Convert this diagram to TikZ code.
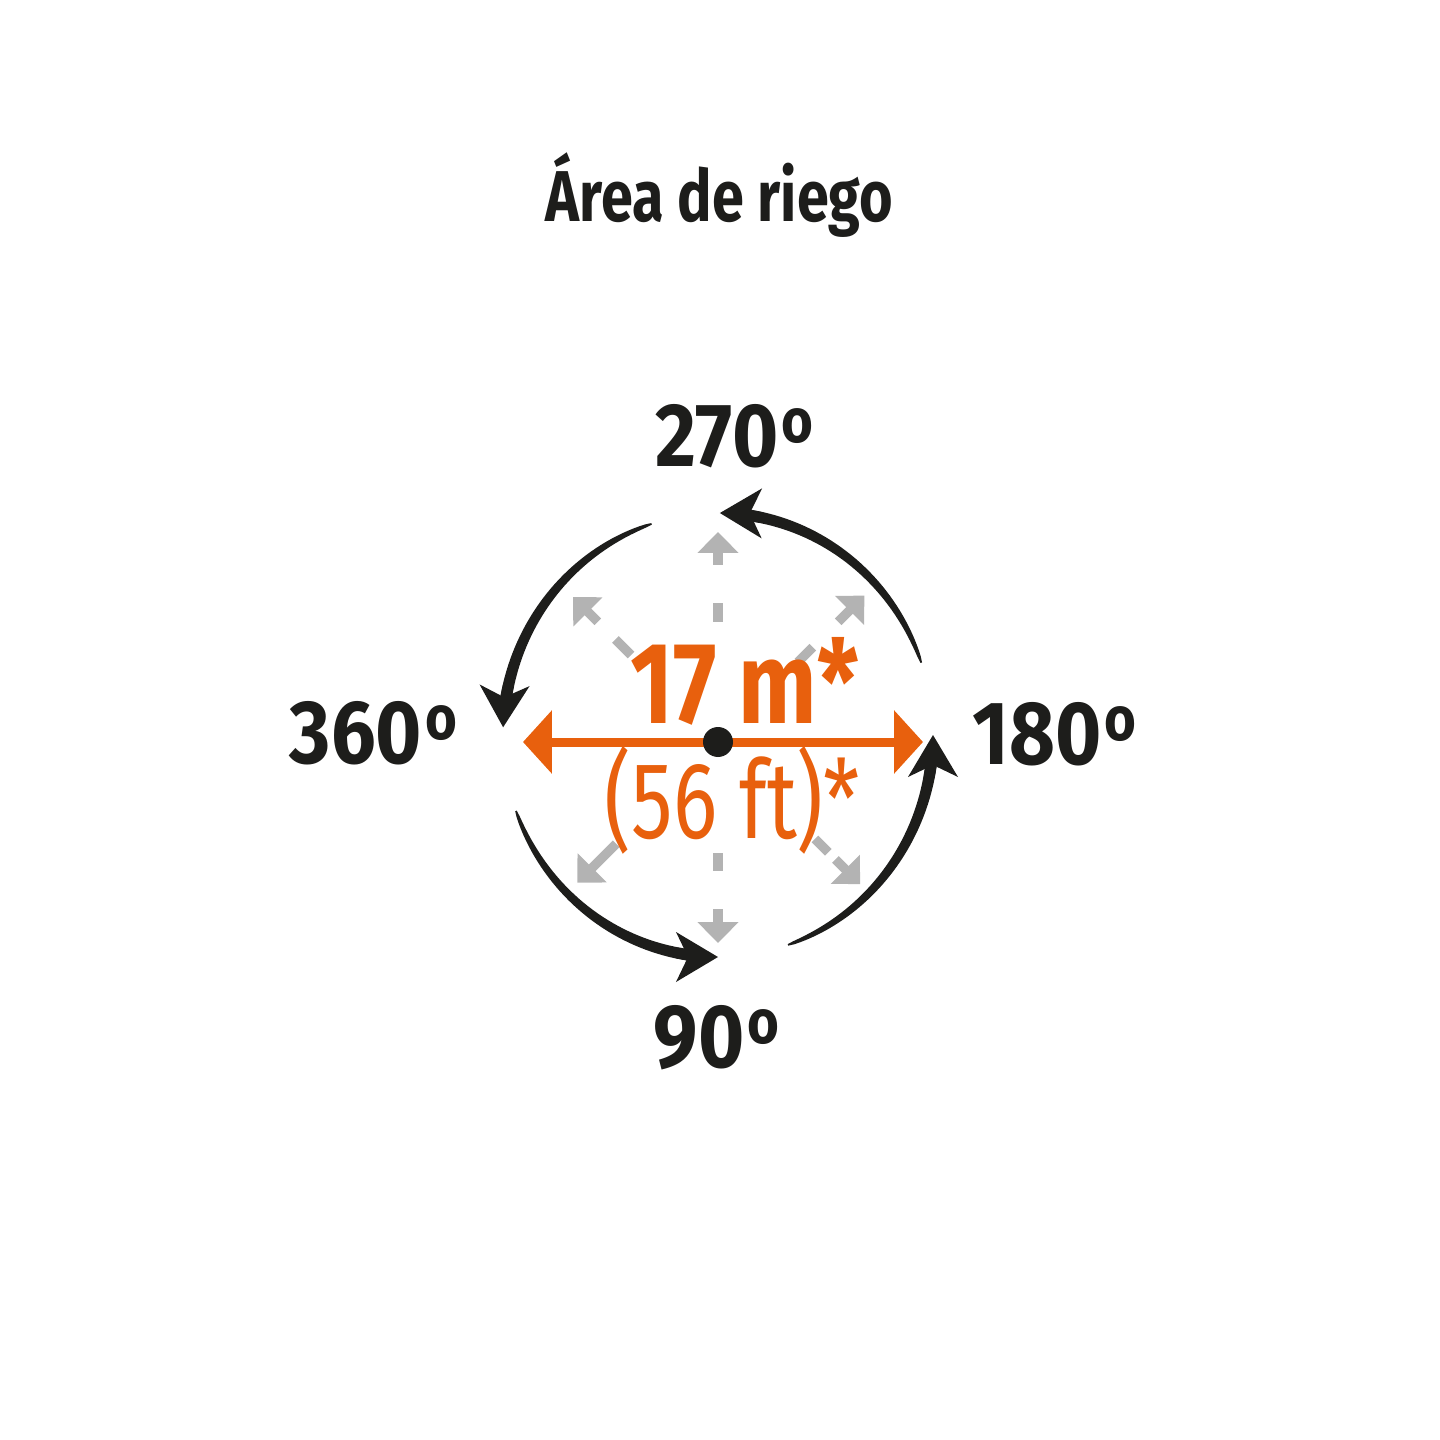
\documentclass[tikz,border=0pt]{standalone}
\usepackage{fontspec}
\setmainfont[FakeStretch=0.8]{Fira Sans}
\newfontfamily\narrowfont[FakeStretch=0.76]{Fira Sans}
\newfontfamily\degfont[FakeStretch=0.88]{Fira Sans}
\usetikzlibrary{arrows.meta, positioning}

\definecolor{darkink}{HTML}{1D1D1B}
\definecolor{sprayorange}{HTML}{E8600D}
\definecolor{jetgrey}{HTML}{B3B3B3}

% raised small o for the degree marks
\newcommand{\ordo}{\kern3pt\raisebox{24pt}{\fontsize{62}{62}\selectfont o}}

\begin{document}
\begin{tikzpicture}[x=1pt, y=1pt, >=latex]
  \tikzstyle{degnode}=[anchor=base, inner sep=0pt, text=darkink, font=\fontsize{90}{90}\degfont\bfseries]
  \tikzstyle{jetline}=[jetgrey, line width=9.5]
  \tikzstyle{jettip}=[-{Triangle[length=21, width=40]}]
  \tikzstyle{turnhead}=[darkink, line width=11, -{Stealth[length=42, width=50, inset=12, line width=0pt]}]

  \useasboundingbox (-718,-698) rectangle (722,742);

  % Title and sprinkler centre
  \node[anchor=base, inner sep=0pt, text=darkink, font=\fontsize{72}{72}\selectfont\bfseries] (title) at (1.5,520) {Área de riego};
  \coordinate (c) at (0,0);

  % Grey spray directions (angle / dash from / dash to / shaft from / tip)
  \foreach \a/\s/\f/\b/\e in {90/120/139/177/210, 45/113/134/170/207, 135/123/145/170/205,
                              225/144/144/144/199, 270/111/129/167/201, 315/137/156/166/201} {
    \draw[jetline] ([shift={(\a:\s)}]c) -- ([shift={(\a:\f)}]c);
    \draw[jetline, jettip] ([shift={(\a:\b)}]c) -- ([shift={(\a:\e)}]c);
  }

  % Turning arcs (tail angle / tip angle)
  \foreach \t/\e in {19/89.5, 108/178, 200/270, 289/360} {
    \pgfmathsetmacro{\m}{\e-8}
    \fill[darkink] plot[domain=\t:\m, samples=40] ({(215+0.8+5*sqrt((\x-\t)/(\m-\t)))*cos(\x)}, {7+(222+0.8+5*sqrt((\x-\t)/(\m-\t)))*sin(\x)})
      -- plot[domain=\m:\t, samples=40] ({(215-0.8-5*sqrt((\x-\t)/(\m-\t)))*cos(\x)}, {7+(222-0.8-5*sqrt((\x-\t)/(\m-\t)))*sin(\x)}) -- cycle;
    \draw[turnhead] ([shift={(\e-11:215 and 222)}]0,7) arc[start angle=\e-11, end angle=\e, x radius=215, y radius=222];
  }

  % Throw distance
  \coordinate (west) at (-195,0);
  \coordinate (east) at (205,0);
  \draw[sprayorange, line width=9, {Triangle[length=29, width=62]}-{Triangle[length=29, width=62]}] (west) -- (east);
  \fill[darkink] (c) circle (15);
  \node[anchor=base, inner sep=0pt, text=sprayorange, font=\fontsize{116}{116}\selectfont\bfseries] (metres) at (26.5,19) {17 m*};
  \node[anchor=base, inner sep=0pt, text=sprayorange, font=\fontsize{109}{109}\narrowfont] (feet) at (14.5,-96) {(56 ft)*};

  % Angle labels
  \node[degnode] (d270) at (16.5,275) {270\ordo};
  \node[degnode] (d360) at (-344.5,-21) {360\ordo};
  \node[degnode] (d180) at (336.5,-22) {180\ordo};
  \node[degnode] (d90) at (-1.5,-325) {90\ordo};
\end{tikzpicture}
\end{document}
